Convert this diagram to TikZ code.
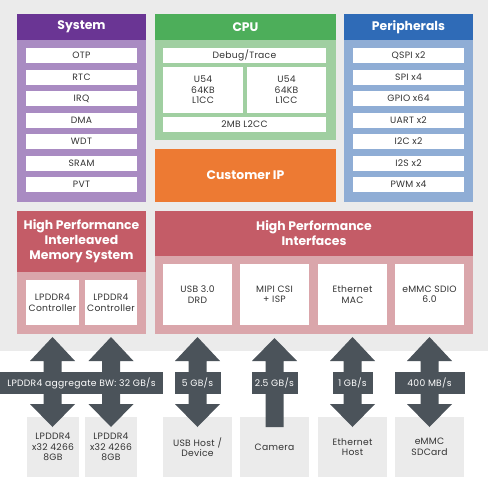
\documentclass[tikz,border=0pt]{standalone}
\usepackage{fontspec}
\setmainfont{Poppins}
\newfontfamily\bodyfont{Poppins}[LetterSpace=3]
\usetikzlibrary{calc}
\definecolor{bgc}{HTML}{EBEBEB}
\definecolor{sysH}{HTML}{6A3594}
\definecolor{sysB}{HTML}{A98BC2}
\definecolor{cpuH}{HTML}{4DAE5A}
\definecolor{cpuB}{HTML}{A0CFA1}
\definecolor{perH}{HTML}{2F6BB7}
\definecolor{perB}{HTML}{8FADD5}
\definecolor{custc}{HTML}{ED7A33}
\definecolor{memH}{HTML}{C45C67}
\definecolor{memB}{HTML}{DAA6AB}
\definecolor{arrc}{HTML}{4B535A}
\definecolor{txtc}{HTML}{333333}
\tikzset{
  base/.style={anchor=north west, inner sep=0pt, outer sep=0pt, align=center},
  panel/.style={base, fill=#1},
  hdr/.style={base, fill=#1, text=white, font=\bfseries\fontsize{12.4}{15}\selectfont},
  inbox/.style={base, fill=white, text=txtc, font=\bodyfont\fontsize{9.2}{10.5}\selectfont},
  extbox/.style={base, fill=bgc, text=txtc, font=\bodyfont\fontsize{9.2}{10.5}\selectfont},
  lbl/.style={anchor=center, inner sep=0pt, outer sep=0pt, fill=arrc, text=white, minimum height=22pt, font=\bodyfont\fontsize{9.2}{10.5}\selectfont},
  arrowfill/.style={fill=arrc},
}
\begin{document}
\begin{tikzpicture}[x=1pt,y=-1pt]
\useasboundingbox (0,0) rectangle (488,480);
\fill[white] (0,0) rectangle (488,480);
\fill[bgc] (0,0) rectangle (488,351);
% System
\node[panel=sysB, minimum width=129pt, minimum height=188pt] (sys) at (17,14) {};
\node[hdr=sysH, minimum width=129pt, minimum height=26pt] (sysh) at (17,14) {System};
\foreach \t [count=\i from 0] in {OTP,RTC,IRQ,DMA,WDT,SRAM,PVT}{
  \node[inbox, minimum width=111pt, minimum height=15pt] (sys\i) at (26,48+\i*21.5) {\t};
}
% CPU
\node[panel=cpuB, minimum width=181pt, minimum height=126pt] (cpu) at (155,14) {};
\node[hdr=cpuH, minimum width=181pt, minimum height=26pt] (cpuh) at (155,14) {CPU};
\node[inbox, minimum width=163pt, minimum height=15pt] (dbg) at (163,48) {Debug/Trace};
\node[inbox, minimum width=80pt, minimum height=46pt] (u54a) at (163,67) {U54\\64KB\\L1CC};
\node[inbox, minimum width=79pt, minimum height=46pt] (u54b) at (247,67) {U54\\64KB\\L1CC};
\node[inbox, minimum width=163pt, minimum height=15pt] (l2cc) at (163,117) {2MB L2CC};
% Customer IP
\node[hdr=custc, minimum width=181pt, minimum height=53pt] (cust) at (155,149) {Customer IP};
% Peripherals
\node[panel=perB, minimum width=129pt, minimum height=188pt] (per) at (344,14) {};
\node[hdr=perH, minimum width=129pt, minimum height=26pt] (perh) at (344,14) {Peripherals};
\foreach \t [count=\i from 0] in {QSPI x2,SPI x4,GPIO x64,UART x2,I2C x2,I2S x2,PWM x4}{
  \node[inbox, minimum width=111pt, minimum height=15pt] (per\i) at (353,48+\i*21.5) {\t};
}
% Memory system
\node[panel=memB, minimum width=129pt, minimum height=123pt] (mem) at (17,211) {};
\node[hdr=memH, minimum width=129pt, minimum height=61pt] (memh) at (17,211) {High Performance\\Interleaved\\Memory System};
\node[inbox, minimum width=53pt, minimum height=45pt] (c1) at (26,280) {LPDDR4\\Controller};
\node[inbox, minimum width=52pt, minimum height=45pt] (c2) at (85,280) {LPDDR4\\Controller};
% Interfaces
\node[panel=memB, minimum width=318pt, minimum height=123pt] (intf) at (155,211) {};
\node[hdr=memH, minimum width=318pt, minimum height=45pt] (intfh) at (155,211) {High Performance\\Interfaces};
\node[inbox, minimum width=69pt, minimum height=61pt] (usb) at (163,264) {USB 3.0\\DRD};
\node[inbox, minimum width=69pt, minimum height=61pt] (mipi) at (240,264) {MIPI CSI\\+ ISP};
\node[inbox, minimum width=69pt, minimum height=61pt] (eth) at (318,264) {Ethernet\\MAC};
\node[inbox, minimum width=69pt, minimum height=61pt] (emmc) at (395,264) {eMMC SDIO\\6.0};
% External devices
\node[extbox, minimum width=52pt, minimum height=60pt] (d1) at (27,417) {LPDDR4\\x32 4266\\8GB};
\node[extbox, minimum width=52pt, minimum height=60pt] (d2) at (85,417) {LPDDR4\\x32 4266\\8GB};
\node[extbox, minimum width=69pt, minimum height=60pt] (husb) at (163,417) {USB Host /\\Device};
\node[extbox, minimum width=69pt, minimum height=60pt] (cam) at (240,417) {Camera};
\node[extbox, minimum width=69pt, minimum height=60pt] (heth) at (318,417) {Ethernet\\Host};
\node[extbox, minimum width=69pt, minimum height=60pt] (sd) at (395,417) {eMMC\\SDCard};
% Double arrows
\foreach \n in {c1,c2,usb,eth,emmc}{
  \fill[arrowfill] ($(\n.south)+(0,12)$) coordinate (\n top) -- ++(22.5,24) -- ++(-13.5,0) -- ++(0,43) -- ++(13.5,0) -- ++(-22.5,23) -- ++(-22.5,-23) -- ++(13.5,0) -- ++(0,-43) -- ++(-13.5,0) -- cycle;
}
% Single arrow (camera)
\fill[arrowfill] ($(mipi.south)+(0,13)$) coordinate (mipitop) -- ++(22.5,23) -- ++(-13.5,0) -- ++(0,66) -- ++(-18,0) -- ++(0,-66) -- ++(-13.5,0) -- cycle;
% Labels
\node[lbl, minimum width=163pt] (bwl) at (81.5,383) {LPDDR4 aggregate BW: 32 GB/s};
\node[lbl, minimum width=46pt] (usbl) at (usb.south |- 0,383) {5 GB/s};
\node[lbl, minimum width=46pt] (caml) at (mipi.south |- 0,383) {2.5 GB/s};
\node[lbl, minimum width=40pt] (ethl) at (eth.south |- 0,383) {1 GB/s};
\node[lbl, minimum width=70pt] (sdl) at (emmc.south |- 0,383) {400 MB/s};
\end{tikzpicture}
\end{document}
